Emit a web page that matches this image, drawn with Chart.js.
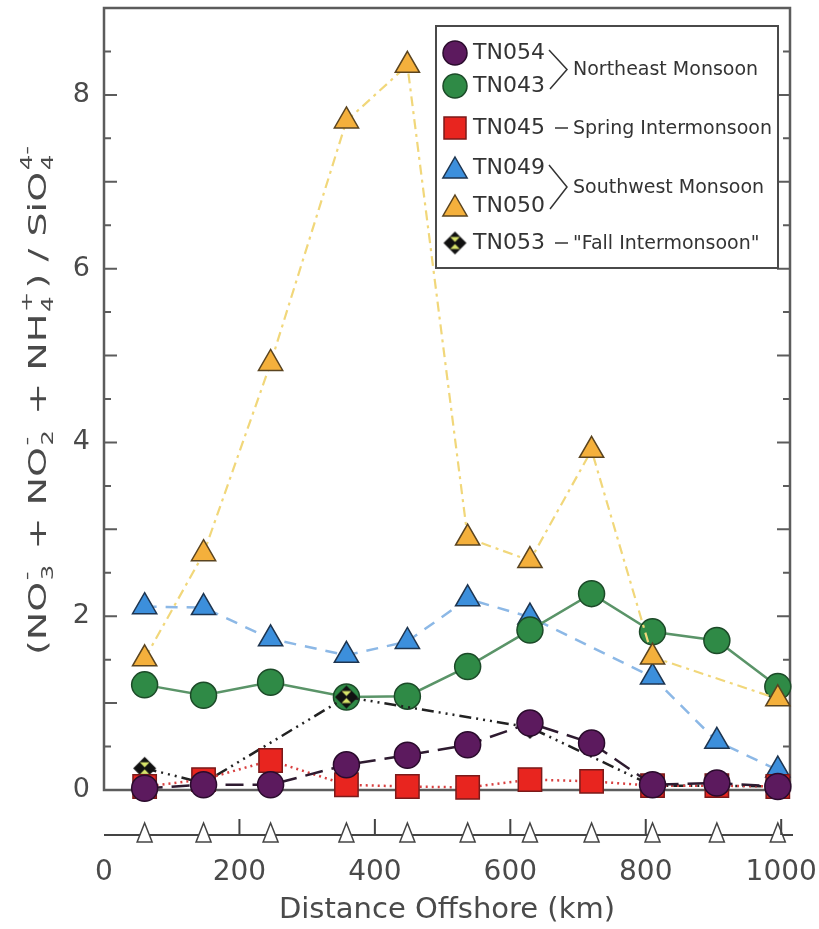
<!DOCTYPE html>
<html>
<head>
<meta charset="utf-8">
<title>Nutrient ratio vs distance offshore</title>
<script src="https://cdn.jsdelivr.net/npm/chart.js@4.4.1/dist/chart.umd.min.js"></script>
<style>
  html, body { margin: 0; padding: 0; background: #fff; }
  #wrap { position: relative; width: 819px; height: 929px; }
</style>
</head>
<body>
<div id="wrap"><canvas id="ratio-chart"></canvas></div>
<script>
// Station distances offshore (km) along the transect
const distanceKm = [60, 147, 246, 358, 448, 537, 629, 720, 810, 905, 995];
const xTickValues = [0, 200, 400, 600, 800, 1000];

// (NO3 + NO2 + NH4) / SiO4 per cruise, null where a station was not sampled
const tn054 = [0.02, 0.06, 0.06, 0.29, 0.40, 0.52, 0.77, 0.54, 0.06, 0.08, 0.04];
const tn043 = [1.21, 1.09, 1.24, 1.07, 1.08, 1.42, 1.84, 2.26, 1.82, 1.72, 1.19];
const tn045 = [0.04, 0.12, 0.34, 0.06, 0.04, 0.03, 0.12, 0.10, 0.05, 0.05, 0.04];
const tn049 = [2.11, 2.10, 1.74, 1.55, 1.71, 2.20, 1.99, null, 1.30, 0.56, 0.23];
const tn050 = [1.51, 2.72, 4.91, 7.70, 8.34, 2.90, 2.64, 3.91, 1.53, null, 1.05];
const tn053 = [0.25, 0.08, null, 1.07, null, null, 0.72, null, 0.05, 0.05, 0.04];

const cruiseNames = ['TN054', 'TN043', 'TN045', 'TN049', 'TN050', 'TN053'];
const seasonGroups = [
    { rows: [0, 1], label: 'Northeast Monsoon' },
    { rows: [2],    label: 'Spring Intermonsoon' },
    { rows: [3, 4], label: 'Southwest Monsoon' },
    { rows: [5],    label: '"Fall Intermonsoon"' },
];

const FONT = "'DejaVu Sans', sans-serif";
const TEXT = '#4a4a4a';

// black diamond with a yellow hourglass inside, used for TN053
function makeDiamond(size) {
    const c = document.createElement('canvas');
    c.width = size; c.height = size;
    const g = c.getContext('2d');
    const m = size / 2, r = size / 2 - 1;
    g.beginPath();
    g.moveTo(m, m - r); g.lineTo(m + r, m); g.lineTo(m, m + r); g.lineTo(m - r, m); g.closePath();
    g.fillStyle = '#111'; g.fill();
    g.fillStyle = '#d8e46a';
    g.beginPath();
    g.moveTo(m, m - 1); g.lineTo(m - r * 0.42, m - r * 0.52); g.lineTo(m + r * 0.42, m - r * 0.52); g.closePath();
    g.moveTo(m, m + 1); g.lineTo(m - r * 0.42, m + r * 0.52); g.lineTo(m + r * 0.42, m + r * 0.52); g.closePath();
    g.fill();
    return c;
}
const diamondImg = makeDiamond(25);

function pairs(vals) {
    return distanceKm.map((d, i) => ({ x: d, y: vals[i] }));
}

// order: lower value is painted later (on top)
const datasets = [
    { label: 'TN054', data: pairs(tn054), order: 0,
      borderColor: '#2e1b30', borderWidth: 2.5, borderDash: [18, 9],
      pointStyle: 'circle', pointRadius: 13, pointBackgroundColor: '#5c1a5e', pointBorderColor: '#2a0b2c', pointBorderWidth: 1.5 },
    { label: 'TN043', data: pairs(tn043), order: 4,
      borderColor: '#5a9468', borderWidth: 2.5, borderDash: [],
      pointStyle: 'circle', pointRadius: 13, pointBackgroundColor: '#2f8a46', pointBorderColor: '#1c4a28', pointBorderWidth: 1.5 },
    { label: 'TN045', data: pairs(tn045), order: 1,
      borderColor: '#d84040', borderWidth: 2.5, borderDash: [2, 4],
      pointStyle: 'rect', pointRadius: 16.5, pointBackgroundColor: '#e8251f', pointBorderColor: '#7a1a1a', pointBorderWidth: 1.5 },
    { label: 'TN049', data: pairs(tn049), order: 5,
      borderColor: '#8cb8e6', borderWidth: 2.5, borderDash: [12, 9],
      pointStyle: 'triangle', pointRadius: 14, pointBackgroundColor: '#3c8fdc', pointBorderColor: '#1e3550', pointBorderWidth: 1.5 },
    { label: 'TN050', data: pairs(tn050), order: 3,
      borderColor: '#f1d77a', borderWidth: 2.2, borderDash: [10, 5, 3, 5],
      pointStyle: 'triangle', pointRadius: 14, pointBackgroundColor: '#f4b03c', pointBorderColor: '#5a4420', pointBorderWidth: 1.5 },
    { label: 'TN053', data: pairs(tn053), order: 2,
      borderColor: '#222', borderWidth: 2.5, borderDash: [12, 5, 2, 5, 2, 5, 2, 5],
      pointStyle: diamondImg, pointRadius: 12, pointBackgroundColor: '#111', pointBorderColor: '#111', pointBorderWidth: 0 },
].map(d => Object.assign(d, { fill: false, tension: 0, spanGaps: true, clip: false }));

function drawMarker(ctx, ds, x, y, r) {
    const style = ds.pointStyle;
    if (typeof style === 'object') {
        ctx.drawImage(style, x - style.width / 2, y - style.height / 2);
        return;
    }
    ctx.fillStyle = ds.pointBackgroundColor;
    ctx.strokeStyle = ds.pointBorderColor;
    ctx.lineWidth = ds.pointBorderWidth;
    ctx.beginPath();
    if (style === 'circle') {
        ctx.arc(x, y, r, 0, Math.PI * 2);
    } else if (style === 'rect') {
        ctx.rect(x - r, y - r, 2 * r, 2 * r);
    } else if (style === 'triangle') {
        ctx.moveTo(x, y - r);
        ctx.lineTo(x + r * 0.866, y + r / 2);
        ctx.lineTo(x - r * 0.866, y + r / 2);
        ctx.closePath();
    }
    ctx.fill();
    ctx.stroke();
}

// plot frame with inward ticks on both vertical sides
const frameTicks = {
    id: 'frameTicks',
    beforeDatasetsDraw(chart) {
        const { ctx, chartArea: a, scales: { y } } = chart;
        ctx.save();
        ctx.strokeStyle = '#5c5c5c';
        ctx.lineWidth = 2.5;
        ctx.strokeRect(a.left, a.top, a.right - a.left, a.bottom - a.top);
        ctx.lineWidth = 2;
        ctx.beginPath();
        y.ticks.forEach(t => {
            if (t.value <= y.min || t.value >= y.max) return;
            const py = y.getPixelForValue(t.value);
            const len = Number.isInteger(t.value) ? 13 : 7;
            ctx.moveTo(a.left, py);  ctx.lineTo(a.left + len, py);
            ctx.moveTo(a.right, py); ctx.lineTo(a.right - len, py);
        });
        ctx.stroke();
        ctx.restore();
    }
};

// detached distance axis with open triangles at the station positions
const stationAxis = {
    id: 'stationAxis',
    afterDraw(chart) {
        const { ctx, chartArea: a, scales: { x } } = chart;
        const base = a.bottom + 45;
        ctx.save();
        ctx.strokeStyle = '#444';
        ctx.lineWidth = 2;
        ctx.beginPath();
        ctx.moveTo(a.left, base); ctx.lineTo(a.right + 3, base);
        ctx.stroke();

        ctx.fillStyle = '#fff';
        ctx.lineWidth = 1.5;
        distanceKm.forEach(d => {
            const px = x.getPixelForValue(d);
            ctx.beginPath();
            ctx.moveTo(px, base - 12);
            ctx.lineTo(px + 7.5, base + 7);
            ctx.lineTo(px - 7.5, base + 7);
            ctx.closePath();
            ctx.fill(); ctx.stroke();
        });

        ctx.lineWidth = 2;
        ctx.beginPath();
        x.ticks.forEach(t => {
            if (t.value <= 0) return;
            const px = x.getPixelForValue(t.value);
            ctx.moveTo(px, base); ctx.lineTo(px, base - 16);
        });
        ctx.stroke();
        ctx.restore();
    }
};

// y title with stacked sub/superscripts, stretched along its length
const Y_TITLE_PARTS = [
    { text: '(NO' }, { sub: '3', sup: '-' }, { text: ' + NO' }, { sub: '2', sup: '-' },
    { text: ' + NH' }, { sub: '4', sup: '+' }, { text: ') / SiO' }, { sub: '4', sup: '4-' },
];

const yTitle = {
    id: 'yTitle',
    afterDraw(chart) {
        const { ctx, chartArea: a } = chart;
        const main = `25px ${FONT}`, small = `16px ${FONT}`;
        ctx.save();
        const widths = Y_TITLE_PARTS.map(p => {
            if (p.text) { ctx.font = main; return ctx.measureText(p.text).width; }
            ctx.font = small;
            return Math.max(ctx.measureText(p.sub).width, ctx.measureText(p.sup).width) + 3;
        });
        const total = widths.reduce((s, w) => s + w, 0);
        const stretch = (a.bottom - a.top) * 0.655 / total;
        ctx.translate(37, (a.top + a.bottom) / 2);
        ctx.rotate(-Math.PI / 2);
        ctx.scale(stretch, 1);
        ctx.fillStyle = TEXT;
        ctx.textBaseline = 'alphabetic';
        let x = -total / 2;
        Y_TITLE_PARTS.forEach((p, i) => {
            if (p.text) {
                ctx.font = main;
                ctx.fillText(p.text, x, 9);
            } else {
                ctx.font = small;
                ctx.fillText(p.sub, x + 1, 16);
                ctx.fillText(p.sup, x + 1, -5);
            }
            x += widths[i];
        });
        ctx.restore();
    }
};

// boxed legend with season brackets
const cruiseLegend = {
    id: 'cruiseLegend',
    afterDraw(chart) {
        const { ctx, chartArea: a } = chart;
        const box = { left: a.right - 354, top: a.top + 18, w: 342, h: 242 };
        const rowY = [27, 60, 102, 142, 180, 217].map(v => box.top + v);
        const markerR = { circle: 12, rect: 11, triangle: 14 };

        ctx.save();
        ctx.fillStyle = '#fff';
        ctx.fillRect(box.left, box.top, box.w, box.h);
        ctx.strokeStyle = '#4a4a4a';
        ctx.lineWidth = 2;
        ctx.strokeRect(box.left, box.top, box.w, box.h);

        chart.data.datasets.forEach((ds, i) => {
            const y = rowY[i];
            const r = markerR[ds.pointStyle] || 12;
            drawMarker(ctx, ds, box.left + 19, ds.pointStyle === 'triangle' ? y + 3 : y, r);
            ctx.fillStyle = '#333';
            ctx.font = `22px ${FONT}`;
            ctx.textBaseline = 'middle';
            ctx.textAlign = 'left';
            ctx.fillText(cruiseNames[i], box.left + 37, y);
        });

        ctx.strokeStyle = '#333';
        ctx.lineWidth = 1.5;
        seasonGroups.forEach(g => {
            const y0 = rowY[g.rows[0]], y1 = rowY[g.rows[g.rows.length - 1]];
            const mid = (y0 + y1) / 2;
            ctx.beginPath();
            if (g.rows.length > 1) {
                ctx.moveTo(box.left + 113, y0 - 3);
                ctx.lineTo(box.left + 131, mid);
                ctx.lineTo(box.left + 114, y1 + 3);
            } else {
                ctx.moveTo(box.left + 119, mid);
                ctx.lineTo(box.left + 132, mid);
            }
            ctx.stroke();
            ctx.fillStyle = '#333';
            ctx.font = `19px ${FONT}`;
            ctx.fillText(g.label, box.left + 137, mid + 1);
        });
        ctx.restore();
    }
};

Chart.defaults.font.family = FONT;

new Chart(document.getElementById('ratio-chart'), {
    type: 'line',
    data: { datasets },
    options: {
        responsive: true,
        maintainAspectRatio: false,
        animation: false,
        layout: { autoPadding: false, padding: { top: 8, right: 29, left: 0, bottom: 0 } },
        plugins: {
            legend: { display: false },
            tooltip: { enabled: false },
        },
        scales: {
            x: {
                type: 'linear',
                min: 0,
                max: 1013,
                grid: { display: false, drawTicks: false },
                border: { display: false },
                afterBuildTicks(s) { s.ticks = xTickValues.map(v => ({ value: v })); },
                ticks: {
                    autoSkip: false, maxRotation: 0,
                    padding: 66, color: TEXT, font: { size: 28 },
                    callback: v => String(v),
                },
                title: {
                    display: true, text: 'Distance Offshore (km)', color: TEXT,
                    font: { size: 29 }, padding: { top: 0, bottom: 1 },
                },
                afterFit(s) { s.height = 139; s.paddingLeft = 0; s.paddingRight = 0; },
            },
            y: {
                min: 0,
                max: 9,
                grid: { display: false, drawTicks: false },
                border: { display: false },
                ticks: {
                    stepSize: 0.5, autoSkip: false, padding: 14, color: TEXT, font: { size: 27 },
                    callback: v => (v % 2 === 0 && v < 9) ? String(v) : '',
                },
                afterFit(s) { s.width = 104; s.paddingTop = 0; s.paddingBottom = 0; },
            },
        },
    },
    plugins: [frameTicks, stationAxis, yTitle, cruiseLegend],
});
</script>
</body>
</html>
